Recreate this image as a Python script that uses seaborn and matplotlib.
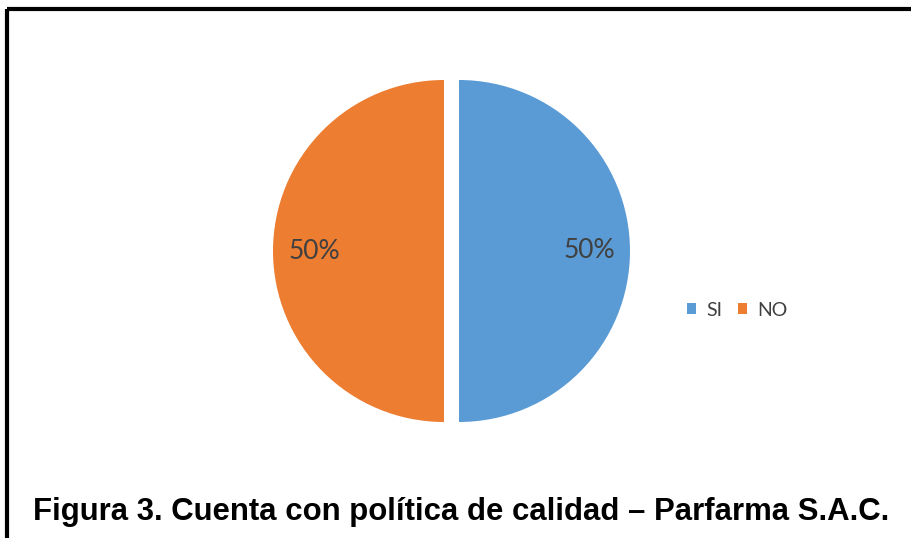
import matplotlib
matplotlib.use("Agg")
import matplotlib.pyplot as plt
import seaborn as sns

categories = ["SI", "NO"]
values = [50, 50]
colors = ["#5B9BD5", "#ED7D31"]
caption = "Figura 3. Cuenta con política de calidad – Parfarma S.A.C."

sns.set_theme(style="white")
plt.rcParams["font.family"] = ["Lato", "DejaVu Sans"]

fig = plt.figure(figsize=(9.12, 5.38), dpi=100)
ax = fig.add_axes([0, 0, 1, 1])

wedges, texts, autotexts = ax.pie(
    values, colors=colors, startangle=90, counterclock=False,
    center=(451.5, 251), radius=171, explode=[7.5, 7.5],
    autopct="%1.0f%%", pctdistance=0.76,
    textprops=dict(color="#404040", fontsize=19),
    wedgeprops=dict(linewidth=0), frame=True)
ax.set_xlim(0, 912)
ax.set_ylim(538, 0)
ax.set_aspect("equal")
ax.axis("off")

leg = ax.legend(wedges, categories, ncol=2, loc="center",
                bbox_to_anchor=(737, 310), bbox_transform=ax.transData,
                frameon=False, handlelength=0.5, handleheight=0.5,
                handletextpad=0.5, columnspacing=0.8,
                prop=dict(size=14))
for t in leg.get_texts():
    t.set_color("#404040")

# frame lines
ax.plot([7.5, 912], [9, 9], color="black", lw=3, solid_capstyle="butt")
ax.plot([7.5, 7.5], [9, 538], color="black", lw=3, solid_capstyle="butt")

ax.text(461.5, 512, caption, ha="center", va="center", fontsize=22.4,
        fontweight="bold", family=["Liberation Sans", "DejaVu Sans"], color="black")

fig.savefig("out.png", dpi=100)
